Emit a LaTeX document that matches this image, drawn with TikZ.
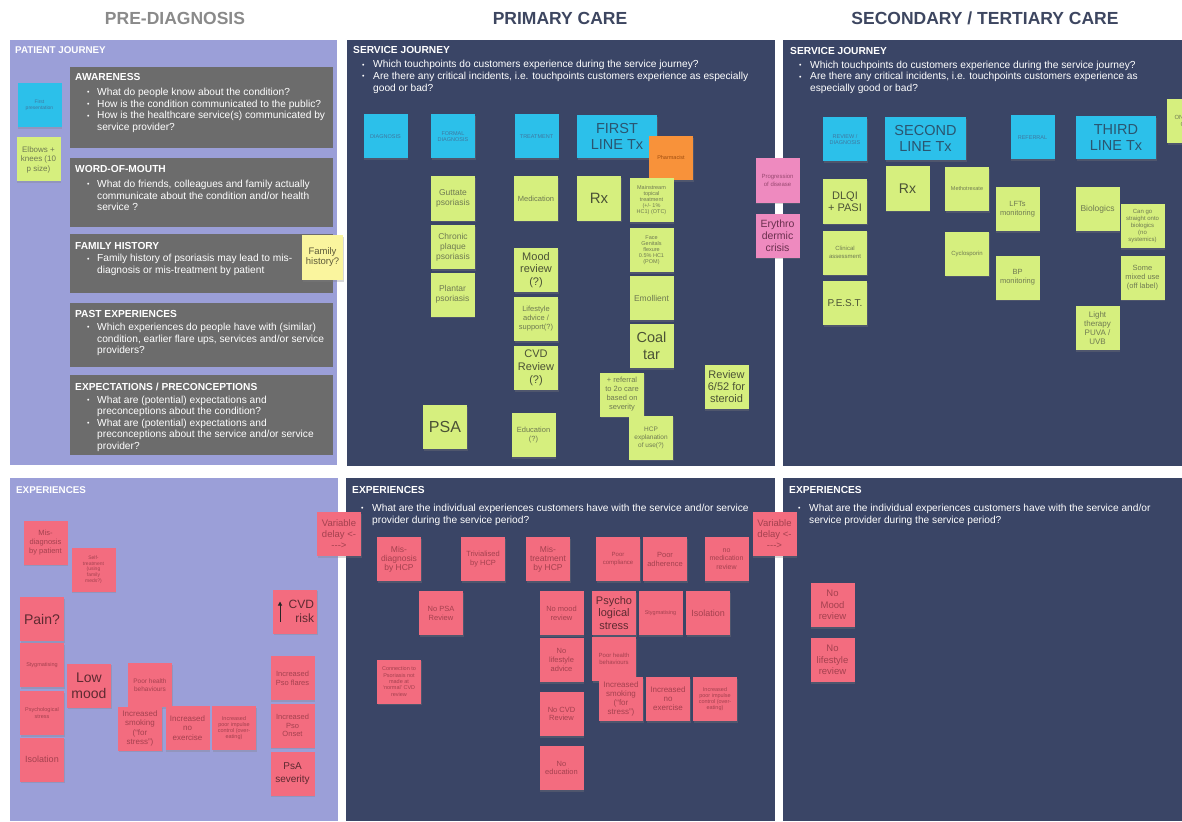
\documentclass[tikz,border=0pt]{standalone}
\usepackage{fontspec}
\setmainfont{Liberation Sans}
\usetikzlibrary{shadows,arrows.meta}
\definecolor{lav}{HTML}{9B9FD8}
\definecolor{navy}{HTML}{3A4566}
\definecolor{gbx}{HTML}{6C6C6C}
\definecolor{hdgray}{HTML}{8A8A8A}
\definecolor{hdnavy}{HTML}{3D4660}
\definecolor{cy}{HTML}{2CC0EA}
\definecolor{cyT}{HTML}{3F78A0}
\definecolor{cyTB}{HTML}{2A5570}
\definecolor{yg}{HTML}{D6EF7E}
\definecolor{ygT}{HTML}{6F7A52}
\definecolor{ygTB}{HTML}{4B5236}
\definecolor{rp}{HTML}{F36C7F}
\definecolor{rpT}{HTML}{A4414F}
\definecolor{rpTB}{HTML}{5E2A31}
\definecolor{pk}{HTML}{EE8ABF}
\definecolor{pkT}{HTML}{9A4A72}
\definecolor{pkTB}{HTML}{6A2F4E}
\definecolor{og}{HTML}{F8923A}
\definecolor{ogT}{HTML}{A04E10}
\definecolor{py}{HTML}{FAF59E}
\definecolor{pyT}{HTML}{5D5A3A}
\newcommand\fs[2]{\fontsize{#1}{#2}\selectfont}
\newcommand\bdot{\raisebox{0.6pt}{\fs{7}{7}\textbullet}}
\newcommand\bu{\hspace*{12pt}\makebox[10pt][l]{\bdot}}
\newcommand\ct{\hspace*{22pt}}
\newcommand\bv{\hspace*{9pt}\makebox[11pt][l]{\bdot}}
\newcommand\cv{\hspace*{20pt}}
\begin{document}
\begin{tikzpicture}[x=1pt,y=-1pt,
  every node/.style={inner sep=0pt},
  panel/.style={anchor=north west, inner sep=0pt, draw=none},
  gboxst/.style={anchor=north west, fill=gbx, inner sep=0pt, minimum width=263pt},
  wtxt/.style={anchor=north west, align=left, text=white, inner sep=0pt, font=\fs{10.2}{11.6}},
  hd/.style={font=\bfseries\fs{17.5}{19}},
  st/.style={minimum width=44pt, minimum height=44pt, inner sep=1pt, align=center,
     drop shadow={shadow xshift=0.5pt, shadow yshift=-1.8pt, opacity=0.3}},
  sCy/.style={st, fill=cy, text=cyT},
  sYg/.style={st, fill=yg, text=ygT},
  sRp/.style={st, fill=rp, text=rpT},
  sPk/.style={st, fill=pk, text=pkT},
  sOg/.style={st, fill=og, text=ogT},
  sPy/.style={st, fill=py, text=pyT},
  big/.style={minimum width=80pt, minimum height=43pt, text=cyTB, font=\fs{14.5}{16.5}}
]
\useasboundingbox (0,0) rectangle (1182,821);
\fill[white] (0,0) rectangle (1182,821);

% headers
\node[hd, text=hdgray] (h1) at (175,18) {PRE-DIAGNOSIS};
\node[hd, text=hdnavy] (h2) at (560,18) {PRIMARY CARE};
\node[hd, text=hdnavy] (h3) at (985,18) {SECONDARY / TERTIARY CARE};

% panels
\node[panel, fill=lav, minimum width=327pt, minimum height=425pt] (pA) at (10,40) {};
\node[panel, fill=navy, minimum width=428pt, minimum height=426pt] (pB) at (347,40) {};
\node[panel, fill=navy, minimum width=399pt, minimum height=426pt] (pC) at (783,40) {};
\node[panel, fill=lav, minimum width=328pt, minimum height=343pt] (pD) at (10,478) {};
\node[panel, fill=navy, minimum width=429pt, minimum height=343pt] (pE) at (346,478) {};
\node[panel, fill=navy, minimum width=399pt, minimum height=343pt] (pF) at (783,478) {};

% panel texts
\node[wtxt, font=\bfseries\fs{9.8}{11}] (tA) at (15,46.5) {PATIENT JOURNEY};
\node[wtxt] (tB) at (353,46.5) {\textbf{SERVICE JOURNEY}\\[2.4pt]
\bv Which touchpoints do customers experience during the service journey?\\
\bv Are there any critical incidents, i.e. touchpoints customers experience as especially\\
\cv good or bad?};
\node[wtxt] (tC) at (790,47) {\textbf{SERVICE JOURNEY}\\[2.4pt]
\bv Which touchpoints do customers experience during the service journey?\\
\bv Are there any critical incidents, i.e. touchpoints customers experience as\\
\cv especially good or bad?};
\node[wtxt, font=\bfseries\fs{9.8}{11}] (tD) at (16,486.5) {EXPERIENCES};
\node[wtxt] (tE) at (352,486.5) {\textbf{EXPERIENCES}\\[6pt]
\bv What are the individual experiences customers have with the service and/or service\\
\cv provider during the service period?};
\node[wtxt] (tF) at (789,486.5) {\textbf{EXPERIENCES}\\[6pt]
\bv What are the individual experiences customers have with the service and/or\\
\cv service provider during the service period?};

% gray boxes
\node[gboxst, minimum height=81pt] (gb1) at (70,67) {};
\node[gboxst, minimum height=69pt] (gb2) at (70,158) {};
\node[gboxst, minimum height=59pt] (gb3) at (70,234) {};
\node[gboxst, minimum height=64pt] (gb4) at (70,303) {};
\node[gboxst, minimum height=80pt] (gb5) at (70,375) {};
\node[wtxt] (gt1) at (75,73.5) {\textbf{AWARENESS}\\[3pt]
\bu What do people know about the condition?\\
\bu How is the condition communicated to the public?\\
\bu How is the healthcare service(s) communicated by\\
\ct service provider?};
\node[wtxt] (gt2) at (75,165.5) {\textbf{WORD-OF-MOUTH}\\[3pt]
\bu What do friends, colleagues and family actually\\
\ct communicate about the condition and/or health\\
\ct service ?};
\node[wtxt] (gt3) at (75,242) {\textbf{FAMILY HISTORY}\\[1pt]
\bu Family history of psoriasis may lead to mis-\\
\ct diagnosis or mis-treatment by patient};
\node[wtxt] (gt4) at (75,310.5) {\textbf{PAST EXPERIENCES}\\[1pt]
\bu Which experiences do people have with (similar)\\
\ct condition, earlier flare ups, services and/or service\\
\ct providers?};
\node[wtxt] (gt5) at (75,383) {\textbf{EXPECTATIONS / PRECONCEPTIONS}\\[1pt]
\bu What are (potential) expectations and\\
\ct preconceptions about the condition?\\
\bu What are (potential) expectations and\\
\ct preconceptions about the service and/or service\\
\ct provider?};

% ---- top-left stickies
\node[sCy, font=\fs{5}{6}] (fp) at (39.5,105) {First\\presentation};
\node[sYg, font=\fs{8}{9.5}] (ek) at (38.5,159.5) {Elbows +\\knees (10\\p size)};
\node[sPy, minimum width=41pt, minimum height=45pt, font=\fs{9.5}{10}] (fh) at (322.5,257.5) {Family\\history?};

% ---- primary care, service journey
\node[sCy, font=\fs{5.5}{6.5}] (diag) at (385.5,136.5) {DIAGNOSIS};
\node[sCy, font=\fs{5.5}{6.5}] (fdiag) at (453,136.5) {FORMAL\\DIAGNOSIS};
\node[sCy, font=\fs{5.5}{6.5}] (treat) at (536.5,136.5) {TREATMENT};
\node[sCy, big] (flt) at (617,136.5) {FIRST\\LINE Tx};
\node[sOg, font=\fs{5.5}{6.5}] (pharm) at (671,158) {Pharmacist};
\node[sYg, font=\fs{8.5}{10}] (gut) at (453,198.5) {Guttate\\psoriasis};
\node[sYg, font=\fs{8.5}{10}] (cpp) at (453,247) {Chronic\\plaque\\psoriasis};
\node[sYg, font=\fs{8.5}{10}] (ppso) at (452.5,294.5) {Plantar\\psoriasis};
\node[sYg, font=\fs{7.5}{9}] (med) at (536,198.5) {Medication};
\node[sYg, text=ygTB, font=\fs{15}{17}] (rx1) at (599,198.5) {Rx};
\node[sYg, font=\fs{5.5}{6}] (mtt) at (651.5,200) {Mainstream\\topical\\treatment\\(+/- 1\%\\HC1) (OTC)};
\node[sYg, font=\fs{5.5}{6}] (fgf) at (651.5,250) {Face\\Genitals\\flexure\\0.5\% HC1\\(POM)};
\node[sYg, font=\fs{8.5}{10}] (emo) at (651.5,298) {Emollient};
\node[sYg, text=ygTB, font=\fs{14.5}{17}] (coal) at (651.5,346) {Coal\\tar};
\node[sYg, text=ygTB, font=\fs{11}{12.5}] (mood) at (536,270) {Mood\\review\\(?)};
\node[sYg, font=\fs{7.5}{9}] (life) at (536,319) {Lifestyle\\advice /\\support(?)};
\node[sYg, text=ygTB, font=\fs{11}{13}] (cvdr) at (536,368) {CVD\\Review\\(?)};
\node[sYg, font=\fs{7.5}{9}] (refr) at (622,394.5) {+ referral\\to 2o care\\based on\\severity};
\node[sYg, text=ygTB, font=\fs{11}{12}] (rev) at (726.5,387) {Review\\6/52 for\\steroid};
\node[sYg, text=ygTB, font=\fs{16}{18}] (psa1) at (445,427) {PSA};
\node[sYg, font=\fs{7.5}{9}] (edu) at (533.5,435) {Education\\(?)};
\node[sYg, font=\fs{6.5}{8}] (hcp) at (651,437.5) {HCP\\explanation\\of use(?)};

% ---- between columns
\node[sPk, font=\fs{6}{7.5}] (prog) at (777.5,180.5) {Progression\\of disease};
\node[sPk, text=pkTB, font=\fs{10.5}{12}] (ery) at (777.5,235.5) {Erythro\\dermic\\crisis};

% ---- secondary care, service journey
\node[sCy, font=\fs{5.5}{6.5}] (rd) at (845,139.5) {REVIEW /\\DIAGNOSIS};
\node[sCy, big, minimum width=81pt] (slt) at (925.5,138.5) {SECOND\\LINE Tx};
\node[sCy, font=\fs{5.5}{6.5}] (refl) at (1032.5,137.5) {REFERRAL};
\node[sCy, big] (tlt) at (1116,137.5) {THIRD\\LINE Tx};
\begin{scope}
\clip (783,40) rectangle (1182,466);
\node[sYg, font=\fs{6}{7.5}] (ong) at (1189,121) {ONGOING\\CARE};
\end{scope}
\node[sYg, text=ygTB, font=\fs{11}{12.5}] (dlqi) at (845,201.5) {DLQI\\+ PASI};
\node[sYg, font=\fs{6}{7.5}] (ca) at (845,252.5) {Clinical\\assessment};
\node[sYg, text=ygTB, font=\fs{10}{11}] (pest) at (845,303) {P.E.S.T.};
\node[sYg, text=ygTB, font=\fs{14}{16}] (rx2) at (907.5,188.5) {Rx};
\node[sYg, font=\fs{5.5}{6.5}] (mtx) at (967,189) {Methotrexate};
\node[sYg, font=\fs{6}{7}] (cyc) at (967,253.5) {Cyclosporin};
\node[sYg, font=\fs{7.5}{9}] (lft) at (1017.5,209) {LFTs\\monitoring};
\node[sYg, font=\fs{7.5}{9}] (bp) at (1017.5,277.5) {BP\\monitoring};
\node[sYg, font=\fs{8.5}{10}] (bio) at (1097.5,209) {Biologics};
\node[sYg, font=\fs{6}{7}] (cgs) at (1142.5,226) {Can go\\straight onto\\biologics\\(no\\systemics)};
\node[sYg, font=\fs{7.5}{9}] (smu) at (1142.5,277.5) {Some\\mixed use\\(off label)};
\node[sYg, font=\fs{8}{9}] (lt) at (1097.5,328) {Light\\therapy\\PUVA /\\UVB};

% ---- pre-diagnosis experiences
\node[sRp, font=\fs{7.5}{8.7}] (md) at (45.5,542.5) {Mis-\\diagnosis\\by patient};
\node[sRp, font=\fs{5}{5.6}] (stm) at (93.5,569.5) {Self-\\treatment\\(using\\family\\meds?)};
\node[sRp, text=rpTB, font=\fs{14}{16}] (pain) at (42,619) {Pain?};
\node[sRp, font=\fs{5.5}{6.5}] (styg) at (42,665) {Stygmatising};
\node[sRp, font=\fs{5.5}{7}] (psy) at (42,713) {Psychological\\stress};
\node[sRp, font=\fs{9}{10}] (iso) at (42,759.5) {Isolation};
\node[sRp, text=rpTB, font=\fs{14}{15.5}] (lm) at (89,685.5) {Low\\mood};
\node[sRp, font=\fs{6.5}{7.7}] (phb) at (150,685) {Poor health\\behaviours};
\node[sRp, font=\fs{8}{9.2}] (ism) at (140,728.5) {Increased\\smoking\\(``for\\stress'')};
\node[sRp, font=\fs{8}{9.2}] (ine) at (187.5,728) {Increased\\no\\exercise};
\node[sRp, font=\fs{5.5}{5.8}] (ipi) at (234,728) {Increased\\poor impulse\\control (over-\\eating)};
\node[sRp, text=rpTB, font=\fs{12}{13.5}, text width=38pt, align=right] (cvd) at (295,611.5) {CVD\\risk};
\draw[-{Triangle[length=4pt,width=4pt]}, line width=1pt, black!85] ([xshift=-15pt,yshift=-10pt]cvd.center) -- ([xshift=-15pt,yshift=10pt]cvd.center);
\node[sRp, font=\fs{7.5}{9}] (ipf) at (292.5,678) {Increased\\Pso flares};
\node[sRp, font=\fs{7.5}{8.6}] (ipo) at (292.5,725.5) {Increased\\Pso\\Onset};
\node[sRp, text=rpTB, font=\fs{10}{12.5}] (psa2) at (292.5,773.5) {PsA\\severity};
\node[sRp, font=\fs{9.5}{11}] (vd1) at (339,534) {Variable\\delay <-\\-{}-{}->};

% ---- primary care experiences
\node[sRp, font=\fs{8.5}{9}] (mdh) at (399,559) {Mis-\\diagnosis\\by HCP};
\node[sRp, font=\fs{7.5}{9}] (tri) at (483,559) {Trivialised\\by HCP};
\node[sRp, font=\fs{8.5}{9}] (mth) at (548,559) {Mis-\\treatment\\by HCP};
\node[sRp, font=\fs{6}{8}] (pc) at (618,559) {Poor\\compliance};
\node[sRp, font=\fs{7.5}{9}] (pa) at (665,559) {Poor\\adherence};
\node[sRp, font=\fs{7}{8.5}] (nmr) at (726.5,559) {no\\medication\\review};
\node[sRp, font=\fs{9.5}{11}] (vd2) at (774.5,534) {Variable\\delay <-\\-{}-{}->};
\node[sRp, font=\fs{7.5}{9}] (npsa) at (441,613) {No PSA\\Review};
\node[sRp, font=\fs{7.5}{9}] (nmood) at (561.5,613) {No mood\\review};
\node[sRp, text=rpTB, font=\fs{11}{12.5}] (pls) at (614,613) {Psycho\\logical\\stress};
\node[sRp, font=\fs{5.5}{6.5}] (styg2) at (660.5,613) {Stygmatising};
\node[sRp, font=\fs{9}{10}] (iso2) at (708,613) {Isolation};
\node[sRp, font=\fs{7.5}{8.7}] (nla) at (561.5,660) {No\\lifestyle\\advice};
\node[sRp, font=\fs{6}{7.5}] (phb2) at (614,659) {Poor health\\behaviours};
\node[sRp, font=\fs{8}{9}] (ism2) at (621,699) {Increased\\smoking\\(``for\\stress'')};
\node[sRp, font=\fs{8}{9}] (ine2) at (668,699) {Increased\\no\\exercise};
\node[sRp, font=\fs{5.5}{5.8}] (ipi2) at (715,699) {Increased\\poor impulse\\control (over-\\eating)};
\node[sRp, font=\fs{5.5}{6.3}] (conn) at (399,681.5) {Connection to\\Psoriasis not\\made at\\`normal' CVD\\review};
\node[sRp, font=\fs{7.5}{8.5}] (ncvd) at (561.5,714) {No CVD\\Review};
\node[sRp, font=\fs{7.5}{8.5}] (ned) at (561.5,768) {No\\education};

% ---- secondary care experiences
\node[sRp, font=\fs{9.5}{11.5}] (nmr2) at (832.5,605) {No\\Mood\\review};
\node[sRp, font=\fs{9.5}{11.5}] (nlr) at (832.5,660) {No\\lifestyle\\review};
\end{tikzpicture}
\end{document}
